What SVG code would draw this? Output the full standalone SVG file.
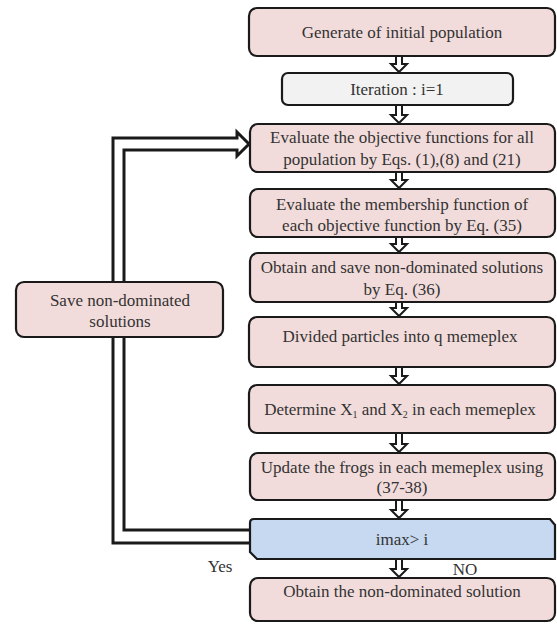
<svg xmlns="http://www.w3.org/2000/svg" width="557" height="624" viewBox="0 0 557 624">
<style>
.box{fill:#f2dcdb;stroke:#1a1a1a;stroke-width:2.2}
.grey{fill:#f2f2f2;stroke:#1a1a1a;stroke-width:2.2}
.blue{fill:#c6d9f1;stroke:#1a1a1a;stroke-width:2.2}
text{font-family:'Liberation Serif','Times New Roman','DejaVu Serif',serif;font-size:17px;fill:#333;text-anchor:middle}
.arr{fill:#fff;stroke:#1a1a1a;stroke-width:2;stroke-linejoin:miter}
.fb{fill:none;stroke:#1a1a1a;stroke-width:3;stroke-linejoin:miter}
</style>
<rect width="557" height="624" fill="#fff"/>
<g id="connectors">
<path class="fb" d="M250,543 H113 V138 H237 V132 L249,144 L237,156 V150 H124 V530 H250"/>
<polygon class="arr" points="396,56 402,56 402,64 407,64 399,72 391,64 396,64"/>
<polygon class="arr" points="396,105 402,105 402,115 407,115 399,123 391,115 396,115"/>
<polygon class="arr" points="396,172 402,172 402,180 407,180 399,188 391,180 396,180"/>
<polygon class="arr" points="396,237 402,237 402,244 407,244 399,252 391,244 396,244"/>
<polygon class="arr" points="396,302 402,302 402,308 407,308 399,316 391,308 396,308"/>
<polygon class="arr" points="396,367 402,367 402,376 407,376 399,384 391,376 396,376"/>
<polygon class="arr" points="396,433 402,433 402,444 407,444 399,452 391,444 396,444"/>
<polygon class="arr" points="396,500 402,500 402,510 407,510 399,518 391,510 396,510"/>
<polygon class="arr" points="396,559 402,559 402,569 407,569 399,577 391,569 396,569"/>
<text x="220" y="572" font-family="Liberation Serif, serif">Yes</text>
<text x="465" y="575" font-family="Liberation Serif, serif">NO</text>
</g>
<g id="n1"><rect class="box" x="249" y="8" width="306" height="48" rx="8"/><text x="402" y="38">Generate of initial population</text></g>
<g id="n2"><rect class="grey" x="282" y="73" width="231" height="32" rx="6"/><text x="397" y="95">Iteration : i=1</text></g>
<g id="n3"><rect class="box" x="250" y="124" width="305" height="48" rx="8"/><text x="402" y="143">Evaluate the objective functions for all</text><text x="402" y="165">population by Eqs. (1),(8) and (21)</text></g>
<g id="n4"><rect class="box" x="250" y="189" width="305" height="48" rx="8"/><text x="402" y="210">Evaluate the membership  function of</text><text x="402" y="231">each objective function by Eq. (35)</text></g>
<g id="n5"><rect class="box" x="250" y="253" width="305" height="49" rx="8"/><text x="402" y="273">Obtain and save non-dominated  solutions</text><text x="402" y="295">by Eq. (36)</text></g>
<g id="n6"><rect class="box" x="249" y="317" width="306" height="50" rx="8"/><text x="400" y="342">Divided particles into q memeplex</text></g>
<g id="n7"><rect class="box" x="249" y="385" width="306" height="48" rx="8"/><text x="400" y="415">Determine X<tspan font-size="10" dy="3">1</tspan><tspan dy="-3">  and X</tspan><tspan font-size="10" dy="3">2</tspan><tspan dy="-3">  in each memeplex</tspan></text></g>
<g id="n8"><rect class="box" x="250" y="453" width="305" height="47" rx="8"/><text x="402" y="473">Update the frogs in each memeplex  using</text><text x="402" y="493">(37-38)</text></g>
<g id="n9"><path class="blue" d="M254,519 H550 L555,525 V559 H257 L250,552 V523 Q250,519 254,519 Z"/><text x="402" y="545">imax&gt; i</text></g>
<g id="n10"><rect class="box" x="250" y="578" width="305" height="43" rx="8"/><text x="402" y="597">Obtain the non-dominated  solution</text></g>
<g id="save"><rect class="box" x="16" y="282" width="207" height="55" rx="8"/><text x="120" y="306">Save non-dominated</text><text x="120" y="327">solutions</text></g>
</svg>
